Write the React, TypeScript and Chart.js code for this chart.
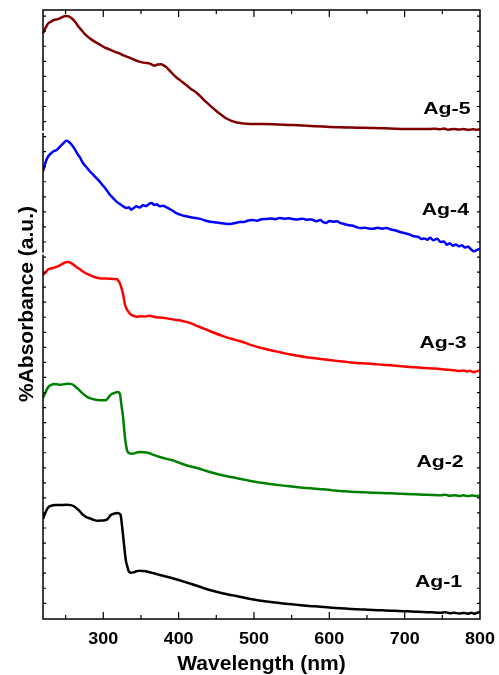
import React, { useEffect, useRef } from "react";
import { Chart, registerables } from "chart.js";

Chart.register(...registerables);

// ---- data (wavelength in nm, normalised absorbance within each stacked panel) ----
const xTickLabels = ["300", "400", "500", "600", "700", "800"];
const seriesNames = ["Ag-1", "Ag-2", "Ag-3", "Ag-4", "Ag-5"];
const seriesColors = ["#000000", "#008000", "#ff0000", "#0000ff", "#800000"];

const ag1Wl = [220, 224, 227, 231, 236, 243, 251, 257, 262, 268, 273, 278, 282, 288, 293, 299, 304, 307, 310, 315, 319, 321, 323, 325, 327, 330, 332, 334, 337, 340, 344, 348, 353, 359, 367, 375, 383, 392, 401, 410, 419, 428, 436, 445, 454, 463, 472, 481, 492, 503, 514, 525, 536, 547, 558, 570, 581, 592, 603, 614, 625, 636, 647, 658, 670, 681, 692, 703, 714, 725, 736, 747, 754, 760, 766, 772, 778, 784, 789, 792, 796, 800];
const ag1Abs = [0.821, 0.885, 0.917, 0.93, 0.936, 0.935, 0.938, 0.935, 0.922, 0.89, 0.856, 0.835, 0.827, 0.812, 0.807, 0.808, 0.813, 0.83, 0.854, 0.866, 0.87, 0.866, 0.854, 0.76, 0.643, 0.479, 0.43, 0.388, 0.38, 0.383, 0.392, 0.397, 0.394, 0.388, 0.375, 0.361, 0.349, 0.334, 0.318, 0.301, 0.283, 0.265, 0.248, 0.232, 0.218, 0.205, 0.194, 0.183, 0.169, 0.156, 0.146, 0.137, 0.129, 0.123, 0.116, 0.109, 0.104, 0.099, 0.093, 0.088, 0.084, 0.08, 0.077, 0.074, 0.071, 0.068, 0.066, 0.063, 0.06, 0.057, 0.055, 0.052, 0.056, 0.048, 0.052, 0.045, 0.05, 0.044, 0.051, 0.043, 0.05, 0.057];

const ag2Wl = [220, 224, 227, 231, 234, 238, 243, 248, 254, 258, 262, 268, 273, 279, 284, 290, 295, 300, 304, 307, 310, 315, 319, 322, 324, 326, 329, 332, 335, 339, 344, 348, 353, 359, 367, 375, 383, 392, 401, 410, 419, 428, 436, 445, 454, 463, 472, 481, 492, 503, 514, 525, 536, 547, 558, 570, 581, 592, 603, 614, 625, 636, 647, 658, 670, 681, 692, 703, 714, 725, 736, 747, 754, 760, 766, 772, 778, 784, 790, 796, 800];
const ag2Abs = [0.814, 0.87, 0.905, 0.922, 0.929, 0.927, 0.924, 0.928, 0.932, 0.928, 0.913, 0.88, 0.85, 0.822, 0.809, 0.8, 0.796, 0.795, 0.798, 0.82, 0.842, 0.856, 0.864, 0.85, 0.76, 0.672, 0.48, 0.377, 0.36, 0.357, 0.366, 0.371, 0.369, 0.365, 0.347, 0.33, 0.317, 0.303, 0.282, 0.262, 0.248, 0.234, 0.217, 0.201, 0.187, 0.174, 0.163, 0.152, 0.138, 0.125, 0.115, 0.106, 0.097, 0.089, 0.082, 0.076, 0.07, 0.065, 0.058, 0.051, 0.047, 0.043, 0.04, 0.037, 0.034, 0.032, 0.029, 0.026, 0.024, 0.021, 0.019, 0.016, 0.02, 0.012, 0.017, 0.01, 0.015, 0.009, 0.014, 0.01, 0.012];

const ag3Wl = [220, 224, 227, 232, 236, 243, 250, 254, 258, 263, 269, 275, 282, 288, 295, 301, 308, 313, 318, 320, 322, 324, 326, 329, 332, 335, 339, 344, 350, 355, 361, 366, 370, 379, 388, 397, 405, 414, 425, 436, 447, 459, 470, 481, 492, 503, 514, 525, 536, 547, 558, 570, 581, 592, 603, 614, 625, 636, 647, 658, 670, 681, 692, 703, 714, 725, 736, 747, 758, 766, 772, 778, 783, 787, 791, 796, 800];
const ag3Abs = [0.824, 0.85, 0.871, 0.88, 0.887, 0.905, 0.929, 0.932, 0.92, 0.897, 0.871, 0.845, 0.824, 0.808, 0.797, 0.795, 0.794, 0.792, 0.789, 0.778, 0.756, 0.72, 0.674, 0.578, 0.535, 0.51, 0.49, 0.482, 0.485, 0.483, 0.49, 0.484, 0.478, 0.474, 0.464, 0.455, 0.447, 0.433, 0.405, 0.378, 0.35, 0.323, 0.301, 0.282, 0.259, 0.236, 0.219, 0.203, 0.188, 0.173, 0.161, 0.149, 0.14, 0.132, 0.124, 0.116, 0.109, 0.102, 0.098, 0.094, 0.088, 0.083, 0.077, 0.071, 0.066, 0.061, 0.057, 0.053, 0.046, 0.042, 0.036, 0.041, 0.032, 0.038, 0.027, 0.035, 0.04];

const ag4Wl = [220, 224, 227, 231, 234, 238, 243, 247, 251, 255, 258, 262, 265, 269, 273, 277, 282, 287, 293, 298, 304, 308, 313, 318, 322, 326, 331, 334, 337, 340, 344, 348, 353, 357, 360, 364, 368, 371, 375, 379, 384, 390, 397, 403, 410, 416, 423, 429, 436, 442, 448, 454, 460, 467, 474, 481, 488, 492, 498, 504, 510, 516, 522, 528, 534, 540, 546, 552, 558, 564, 570, 576, 583, 588, 592, 596, 600, 605, 610, 615, 619, 623, 630, 636, 641, 647, 652, 658, 664, 670, 676, 682, 688, 694, 700, 706, 712, 718, 722, 726, 730, 734, 738, 743, 748, 752, 756, 760, 764, 768, 772, 776, 780, 784, 788, 792, 796, 800];
const ag4Abs = [0.676, 0.76, 0.799, 0.825, 0.84, 0.85, 0.881, 0.905, 0.927, 0.915, 0.894, 0.86, 0.826, 0.79, 0.744, 0.715, 0.676, 0.645, 0.607, 0.57, 0.525, 0.49, 0.456, 0.425, 0.407, 0.39, 0.374, 0.38, 0.361, 0.372, 0.388, 0.378, 0.396, 0.39, 0.405, 0.415, 0.4, 0.405, 0.388, 0.392, 0.38, 0.36, 0.333, 0.318, 0.306, 0.298, 0.292, 0.285, 0.27, 0.262, 0.258, 0.251, 0.248, 0.243, 0.25, 0.259, 0.262, 0.272, 0.276, 0.27, 0.282, 0.284, 0.288, 0.283, 0.292, 0.287, 0.29, 0.284, 0.28, 0.287, 0.278, 0.28, 0.265, 0.275, 0.258, 0.251, 0.268, 0.262, 0.265, 0.25, 0.245, 0.237, 0.23, 0.218, 0.21, 0.212, 0.206, 0.204, 0.212, 0.205, 0.21, 0.198, 0.19, 0.177, 0.168, 0.158, 0.142, 0.138, 0.12, 0.125, 0.114, 0.13, 0.11, 0.122, 0.095, 0.1, 0.073, 0.085, 0.065, 0.075, 0.06, 0.068, 0.05, 0.058, 0.035, 0.019, 0.03, 0.04];

const ag5Wl = [220, 224, 227, 231, 234, 240, 245, 250, 254, 258, 263, 267, 271, 276, 282, 288, 295, 301, 308, 314, 321, 328, 335, 341, 348, 355, 361, 365, 368, 372, 377, 380, 383, 390, 396, 403, 410, 416, 423, 430, 436, 443, 450, 457, 463, 470, 476, 483, 490, 503, 525, 548, 570, 592, 614, 636, 658, 680, 702, 725, 740, 747, 752, 758, 765, 772, 778, 785, 790, 796, 800];
const ag5Abs = [0.809, 0.86, 0.891, 0.905, 0.918, 0.925, 0.94, 0.951, 0.948, 0.932, 0.9, 0.865, 0.836, 0.8, 0.768, 0.742, 0.718, 0.696, 0.677, 0.66, 0.645, 0.625, 0.608, 0.592, 0.576, 0.566, 0.562, 0.55, 0.543, 0.552, 0.554, 0.546, 0.534, 0.49, 0.452, 0.418, 0.384, 0.354, 0.324, 0.285, 0.247, 0.209, 0.171, 0.138, 0.111, 0.09, 0.078, 0.071, 0.067, 0.064, 0.062, 0.056, 0.05, 0.043, 0.037, 0.034, 0.031, 0.027, 0.023, 0.022, 0.025, 0.021, 0.028, 0.017, 0.024, 0.018, 0.022, 0.016, 0.02, 0.017, 0.019];

const allWl = [ag1Wl, ag2Wl, ag3Wl, ag4Wl, ag5Wl];
const allAbs = [ag1Abs, ag2Abs, ag3Abs, ag4Abs, ag5Abs];

// label anchors: wavelength of text centre and baseline value on stacked axis
const labelWl = [745, 747, 751, 754, 756];
const labelVal = [0.263, 1.244, 2.229, 3.317, 4.146];

const FONT = "'Liberation Sans', Arial, Helvetica, sans-serif";

const decorPlugin = {
  id: "decor",
  afterDatasetsDraw(chart: any) {
    const { ctx, chartArea, scales } = chart;
    const xs = scales.x;
    const ys = scales.y;
    const { left, right, top, bottom } = chartArea;
    ctx.save();
    // frame
    ctx.strokeStyle = "#000";
    ctx.lineWidth = 1.5;
    ctx.strokeRect(left, top, right - left, bottom - top);
    // small breaks in the left axis between panels
    ctx.strokeStyle = "#fff";
    ctx.lineWidth = 2;
    [4, 3].forEach((v) => {
      const py = ys.getPixelForValue(v);
      ctx.beginPath();
      ctx.moveTo(left - 2, py);
      ctx.lineTo(left + 1.5, py);
      ctx.stroke();
    });
    // x ticks (inside, bottom and top)
    ctx.strokeStyle = "#000";
    ctx.lineWidth = 1.2;
    for (let v = 250; v < 800; v += 50) {
      const px = xs.getPixelForValue(v);
      const len = v % 100 === 0 ? 7 : 4;
      ctx.beginPath();
      ctx.moveTo(px, bottom);
      ctx.lineTo(px, bottom - len);
      ctx.moveTo(px, top);
      ctx.lineTo(px, top + len);
      ctx.stroke();
    }
    // y minor ticks (inside, left and right)
    for (let v = 0.129; v < 5; v += 0.1236) {
      const py = ys.getPixelForValue(v);
      ctx.beginPath();
      ctx.moveTo(left, py);
      ctx.lineTo(left + 3, py);
      ctx.moveTo(right, py);
      ctx.lineTo(right - 3, py);
      ctx.stroke();
    }
    // tick labels
    ctx.fillStyle = "#000";
    ctx.textAlign = "center";
    ctx.textBaseline = "alphabetic";
    ctx.font = `bold 16px ${FONT}`;
    xTickLabels.forEach((t) => {
      const px = xs.getPixelForValue(Number(t));
      ctx.save();
      ctx.translate(px, bottom + 25);
      ctx.scale(1.12, 1);
      ctx.fillText(t, 0, 0);
      ctx.restore();
    });
    // x title
    ctx.font = `bold 21px ${FONT}`;
    ctx.fillText("Wavelength (nm)", (left + right) / 2 + 0, bottom + 51);
    // y title
    ctx.save();
    ctx.translate(33, 304);
    ctx.rotate(-Math.PI / 2);
    ctx.fillText("%Absorbance (a.u.)", 0, 0);
    ctx.restore();
    // series labels
    ctx.font = `bold 17px ${FONT}`;
    seriesNames.forEach((name, i) => {
      const px = xs.getPixelForValue(labelWl[i]);
      const py = ys.getPixelForValue(labelVal[i]);
      ctx.save();
      ctx.translate(px, py);
      ctx.scale(1.25, 1);
      ctx.fillText(name, 0, 0);
      ctx.restore();
    });
    ctx.restore();
  },
};

export default function App() {
  const ref = useRef<HTMLCanvasElement | null>(null);
  useEffect(() => {
    if (!ref.current) return;
    const datasets = seriesNames.map((name, i) => ({
      label: name,
      data: allWl[i].map((w, j) => ({ x: w, y: allAbs[i][j] + i })),
      borderColor: seriesColors[i],
      backgroundColor: seriesColors[i],
      borderWidth: 2.5,
      pointRadius: 0,
      cubicInterpolationMode: "monotone" as const,
      fill: false,
    }));
    const chart = new Chart(ref.current, {
      type: "line",
      data: { datasets },
      options: {
        animation: false,
        responsive: false,
        maintainAspectRatio: false,
        layout: { padding: { left: 43, right: 19, top: 10, bottom: 56 } },
        plugins: { legend: { display: false }, tooltip: { enabled: false } },
        scales: {
          x: { type: "linear", min: 220, max: 800, display: false },
          y: { type: "linear", min: 0, max: 5, display: false },
        },
      },
      plugins: [decorPlugin],
    });
    return () => chart.destroy();
  }, []);
  return (
    <div style={{ position: "fixed", left: 0, top: 0, width: 499, height: 675, background: "#fff" }}>
      <canvas ref={ref} width={499} height={675} style={{ display: "block" }} />
    </div>
  );
}
